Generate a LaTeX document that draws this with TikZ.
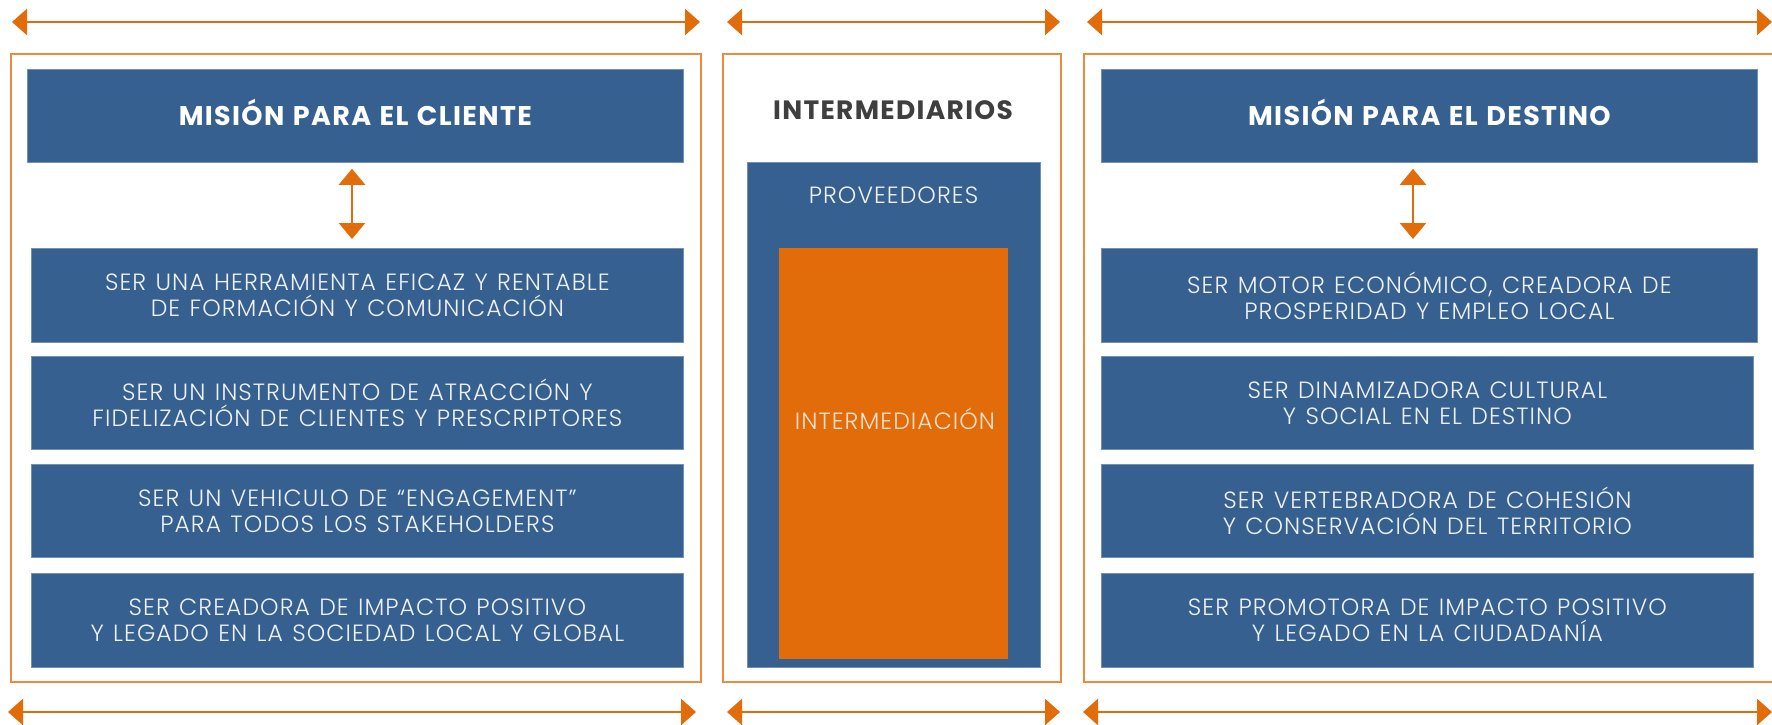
\documentclass[tikz,border=0pt]{standalone}
\usepackage{fontspec}
\setmainfont{Poppins}
\newfontfamily\lightf{Poppins Light}[LetterSpace=4.5, WordSpace=1.25]
\newfontfamily\boldf{Poppins Bold}[LetterSpace=5.0, WordSpace=1.2]
\usetikzlibrary{arrows.meta}
\definecolor{blu}{HTML}{36608F}
\definecolor{org}{HTML}{E36C0A}
\definecolor{frm}{HTML}{EE8A3C}
\definecolor{dgray}{HTML}{3F3F3F}
\definecolor{txtw}{HTML}{EEF1F5}
\definecolor{txto}{HTML}{FBE2CD}
\tikzset{
  framebox/.style={draw=frm, line width=1.3pt, fill=none},
  bluebox/.style={fill=blu, draw=blu!70!white, line width=0.8pt, anchor=north west, inner sep=0pt, align=center, text=txtw, font=\lightf\fontsize{23.5}{26}\selectfont},
  headbox/.style={bluebox, text=white, font=\boldf\fontsize{27}{30}\selectfont, text height=19pt, text depth=0pt},
  orangebox/.style={fill=org, draw=none, anchor=north west, inner sep=0pt},
  harrow/.style={draw=org, line width=2.6pt, {Triangle[length=15pt,width=26pt]}-{Triangle[length=15pt,width=26pt]}},
  varrow/.style={draw=org, line width=2.6pt, {Triangle[length=16pt,width=26pt]}-{Triangle[length=16pt,width=26pt]}},
  lbl/.style={inner sep=0pt}
}
\begin{document}
\begin{tikzpicture}[x=1pt,y=-1pt]
\useasboundingbox (0,0) rectangle (1772,725);
\fill[white] (0,0) rectangle (1772,725);
% frames
\draw[framebox] (11,54) rectangle (701,682);
\draw[framebox] (723,54) rectangle (1061,682);
\draw[framebox] (1084,54) rectangle (1800,682);
% top arrows
\coordinate (ta1) at (12,22); \coordinate (ta2) at (700,22);
\coordinate (tb1) at (727,22); \coordinate (tb2) at (1060,22);
\coordinate (tc1) at (1087,22); \coordinate (tc2) at (1772,22);
\draw[harrow] (ta1) -- (ta2);
\draw[harrow] (tb1) -- (tb2);
\draw[harrow] (tc1) -- (tc2);
% bottom arrows
\coordinate (ba1) at (8,712); \coordinate (ba2) at (696,712);
\coordinate (bb1) at (727,712); \coordinate (bb2) at (1060,712);
\coordinate (bc1) at (1083,712); \coordinate (bc2) at (1772,712);
\draw[harrow] (ba1) -- (ba2);
\draw[harrow] (bb1) -- (bb2);
\draw[harrow] (bc1) -- (bc2);
% left column
\node[headbox, minimum width=656pt, minimum height=93pt] (hl) at (27,69) {MISIÓN PARA EL CLIENTE};
\node[bluebox, minimum width=652pt, minimum height=94pt] (l1) at (31,248) {SER UNA HERRAMIENTA EFICAZ Y RENTABLE\\DE FORMACIÓN Y COMUNICACIÓN};
\node[bluebox, minimum width=652pt, minimum height=93pt] (l2) at (31,356) {SER UN INSTRUMENTO DE ATRACCIÓN Y\\FIDELIZACIÓN DE CLIENTES Y PRESCRIPTORES};
\node[bluebox, minimum width=652pt, minimum height=93pt] (l3) at (31,464) {SER UN VEHICULO DE “ENGAGEMENT”\\PARA TODOS LOS STAKEHOLDERS};
\node[bluebox, minimum width=652pt, minimum height=94pt] (l4) at (31,573) {SER CREADORA DE IMPACTO POSITIVO\\Y LEGADO EN LA SOCIEDAD LOCAL Y GLOBAL};
\draw[varrow, shorten <=6pt, shorten >=9pt] (hl.south -| 352,0) -- (l1.north -| 352,0);
% middle column
\node[lbl, text=dgray, font=\boldf\fontsize{26.5}{30}\selectfont] (mt) at (893,110) {INTERMEDIARIOS};
\node[bluebox, minimum width=293pt, minimum height=505pt] (mb) at (747,162) {};
\node[lbl, text=txtw, font=\lightf\fontsize{23.5}{26}\selectfont] (prov) at (893.5,195) {PROVEEDORES};
\node[orangebox, minimum width=229pt, minimum height=411pt] (ob) at (779,248) {};
\node[lbl, text=txto, font=\lightf\fontsize{23.5}{26}\selectfont] (inter) at (895,419) {INTERMEDIACIÓN};
% right column
\node[headbox, minimum width=656pt, minimum height=93pt] (hr) at (1101,69) {MISIÓN PARA EL DESTINO};
\node[bluebox, minimum width=656pt, minimum height=94pt] (r1) at (1101,248) {SER MOTOR ECONÓMICO, CREADORA DE\\PROSPERIDAD Y EMPLEO LOCAL};
\node[bluebox, minimum width=652pt, minimum height=93pt] (r2) at (1101,356) {SER DINAMIZADORA CULTURAL\\Y SOCIAL EN EL DESTINO};
\node[bluebox, minimum width=652pt, minimum height=93pt] (r3) at (1101,464) {SER VERTEBRADORA DE COHESIÓN\\Y CONSERVACIÓN DEL TERRITORIO};
\node[bluebox, minimum width=652pt, minimum height=94pt] (r4) at (1101,573) {SER PROMOTORA DE IMPACTO POSITIVO\\Y LEGADO EN LA CIUDADANÍA};
\draw[varrow, shorten <=6pt, shorten >=9pt] (hr.south -| 1413,0) -- (r1.north -| 1413,0);
\end{tikzpicture}
\end{document}
